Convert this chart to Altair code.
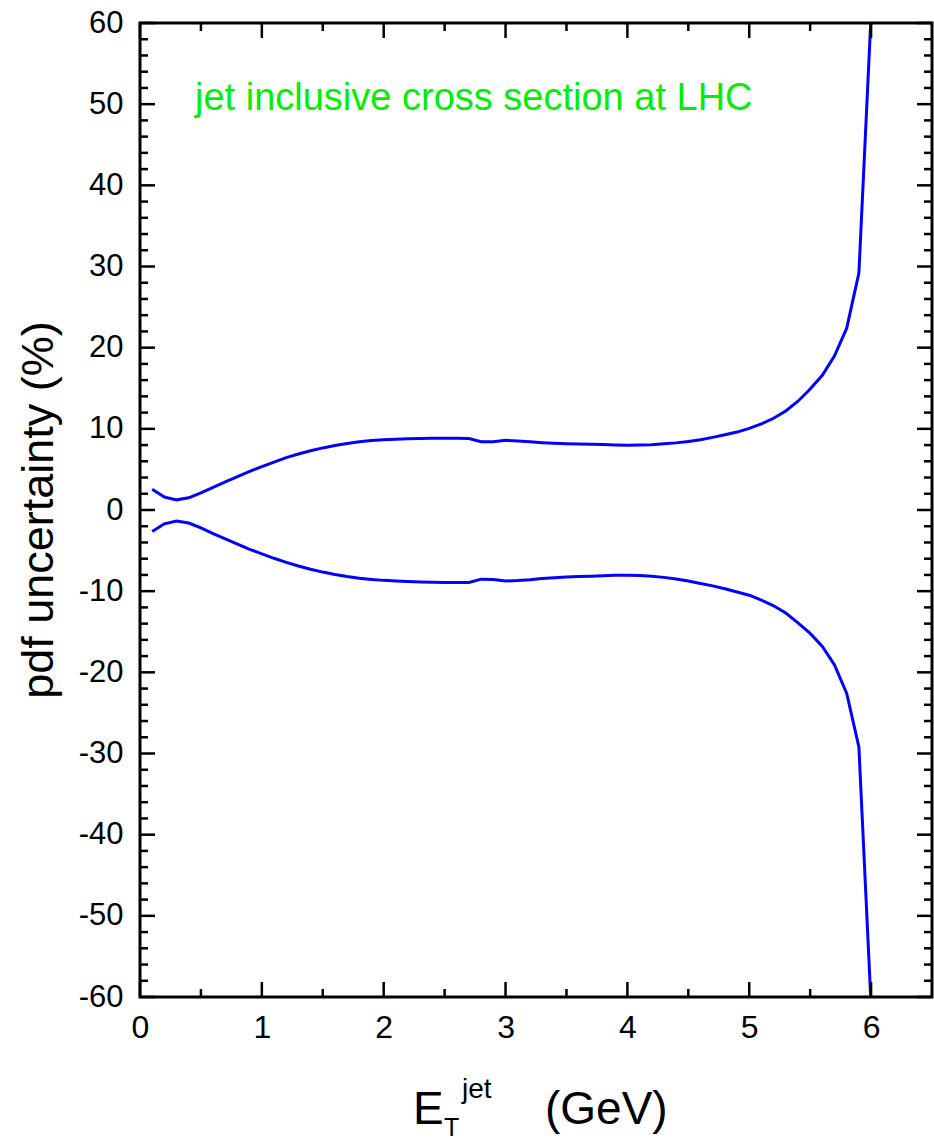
import altair as alt
import pandas as pd

# ---- data ----
et = [0.1, 0.2, 0.3, 0.4, 0.5, 0.6, 0.7, 0.8, 0.9, 1.0,
      1.1, 1.2, 1.3, 1.4, 1.5, 1.6, 1.7, 1.8, 1.9, 2.0,
      2.1, 2.2, 2.3, 2.4, 2.5, 2.6, 2.7, 2.8, 2.9, 3.0,
      3.1, 3.2, 3.3, 3.4, 3.5, 3.6, 3.7, 3.8, 3.9, 4.0,
      4.1, 4.2, 4.3, 4.4, 4.5, 4.6, 4.7, 4.8, 4.9, 5.0,
      5.1, 5.2, 5.3, 5.4, 5.5, 5.6, 5.7, 5.8, 5.9, 6.0]

upper = [2.55, 1.6, 1.25, 1.5, 2.1, 2.8, 3.45, 4.1, 4.75, 5.35,
         5.9, 6.45, 6.9, 7.3, 7.65, 7.95, 8.2, 8.4, 8.55, 8.65,
         8.72, 8.78, 8.82, 8.85, 8.85, 8.83, 8.8, 8.42, 8.42, 8.58,
         8.5, 8.4, 8.3, 8.22, 8.17, 8.13, 8.1, 8.06, 8.0, 7.97,
         8.0, 8.05, 8.15, 8.27, 8.45, 8.65, 8.95, 9.28, 9.6, 10.05,
         10.6, 11.3, 12.2, 13.4, 14.9, 16.6, 19.0, 22.4, 29.2, 61.0]

lower = [-2.65, -1.7, -1.35, -1.6, -2.2, -2.9, -3.55, -4.2, -4.85, -5.4,
         -5.95, -6.45, -6.9, -7.3, -7.65, -7.95, -8.2, -8.4, -8.55, -8.67,
         -8.75, -8.82, -8.87, -8.9, -8.93, -8.93, -8.92, -8.52, -8.55, -8.75,
         -8.7, -8.6, -8.45, -8.35, -8.25, -8.2, -8.15, -8.1, -8.05, -8.03,
         -8.08, -8.15, -8.3, -8.5, -8.75, -9.05, -9.35, -9.7, -10.1, -10.5,
         -11.1, -11.8, -12.7, -13.9, -15.2, -16.8, -19.1, -22.6, -29.2, -61.0]

x_major = [0, 1, 2, 3, 4, 5, 6]
x_minor = [0.5, 1.5, 2.5, 3.5, 4.5, 5.5]
y_major = [-60, -50, -40, -30, -20, -10, 0, 10, 20, 30, 40, 50, 60]
y_minor = [-58, -56, -54, -52, -48, -46, -44, -42, -38, -36, -34, -32,
           -28, -26, -24, -22, -18, -16, -14, -12, -8, -6, -4, -2,
           2, 4, 6, 8, 12, 14, 16, 18, 22, 24, 26, 28,
           32, 34, 36, 38, 42, 44, 46, 48, 52, 54, 56, 58]

W, H = 792, 974
FONT = "Liberation Sans"

xs = alt.Scale(domain=[0, 6.5], nice=False, zero=False)
ys = alt.Scale(domain=[-60, 60], nice=False, zero=False)

x_axis = alt.Axis(
    values=x_major, ticks=False, domain=False, grid=False, title=None,
    labelFont=FONT, labelFontSize=32, labelColor="black", labelPadding=15,
    labelFlush=False, labelOverlap=False, labelExpr="datum.value + ''")
y_axis = alt.Axis(
    values=y_major, ticks=False, domain=False, grid=False, title=None,
    labelFont=FONT, labelFontSize=31, labelColor="black", labelPadding=17,
    labelFlush=False, labelOverlap=False, labelExpr="datum.value + ''")

df = pd.DataFrame({
    "et": et + et,
    "pct": upper + lower,
    "band": ["upper"] * len(et) + ["lower"] * len(et),
})

lines = alt.Chart(df).mark_line(color="#0000ff", strokeWidth=3, clip=True).encode(
    x=alt.X("et:Q", scale=xs, axis=x_axis),
    y=alt.Y("pct:Q", scale=ys, axis=y_axis),
    detail="band:N",
)


def xticks(vals, y0, y1):
    return alt.Chart(pd.DataFrame({"v": vals})).mark_rule(color="black", strokeWidth=2.5).encode(
        x=alt.X("v:Q", scale=xs, axis=x_axis), y=alt.value(y0), y2=alt.value(y1))


def yticks(vals, x0, x1):
    return alt.Chart(pd.DataFrame({"v": vals})).mark_rule(color="black", strokeWidth=2.5).encode(
        y=alt.Y("v:Q", scale=ys, axis=y_axis), x=alt.value(x0), x2=alt.value(x1))


MAJ, MIN = 15, 8
ticks = [
    xticks(x_major, H, H - MAJ), xticks(x_minor, H, H - MIN),
    xticks(x_major, 0, MAJ), xticks(x_minor, 0, MIN),
    yticks(y_major, 0, MAJ), yticks(y_minor, 0, MIN),
    yticks(y_major, W, W - MAJ), yticks(y_minor, W, W - MIN),
]


def label(txt, x, y, size, color="black", angle=0, align="left", baseline="alphabetic"):
    return alt.Chart(pd.DataFrame({"t": [txt]})).mark_text(
        font=FONT, fontSize=size, color=color, angle=angle, align=align, baseline=baseline
    ).encode(text="t:N", x=alt.value(x), y=alt.value(y))


texts = [
    label("jet inclusive cross section at LHC", 55, 87, 38, color="#00ee00"),
    label("pdf uncertainty (%)", -101, 487, 45, angle=270, align="center", baseline="middle"),
    label("E", 273, 1101, 46),
    label("T", 304, 1113, 25),
    label("jet", 322, 1075, 28),
    label("(GeV)", 405, 1101, 46),
]

chart = alt.layer(lines, *ticks, *texts).properties(
    width=W, height=H,
    autosize=alt.AutoSizeParams(type="none"),
    padding={"left": 140, "top": 23, "right": 2, "bottom": 143},
).configure_view(stroke="black", strokeWidth=3)

chart.save("out.html", embed_options={"renderer": "svg", "actions": False})
